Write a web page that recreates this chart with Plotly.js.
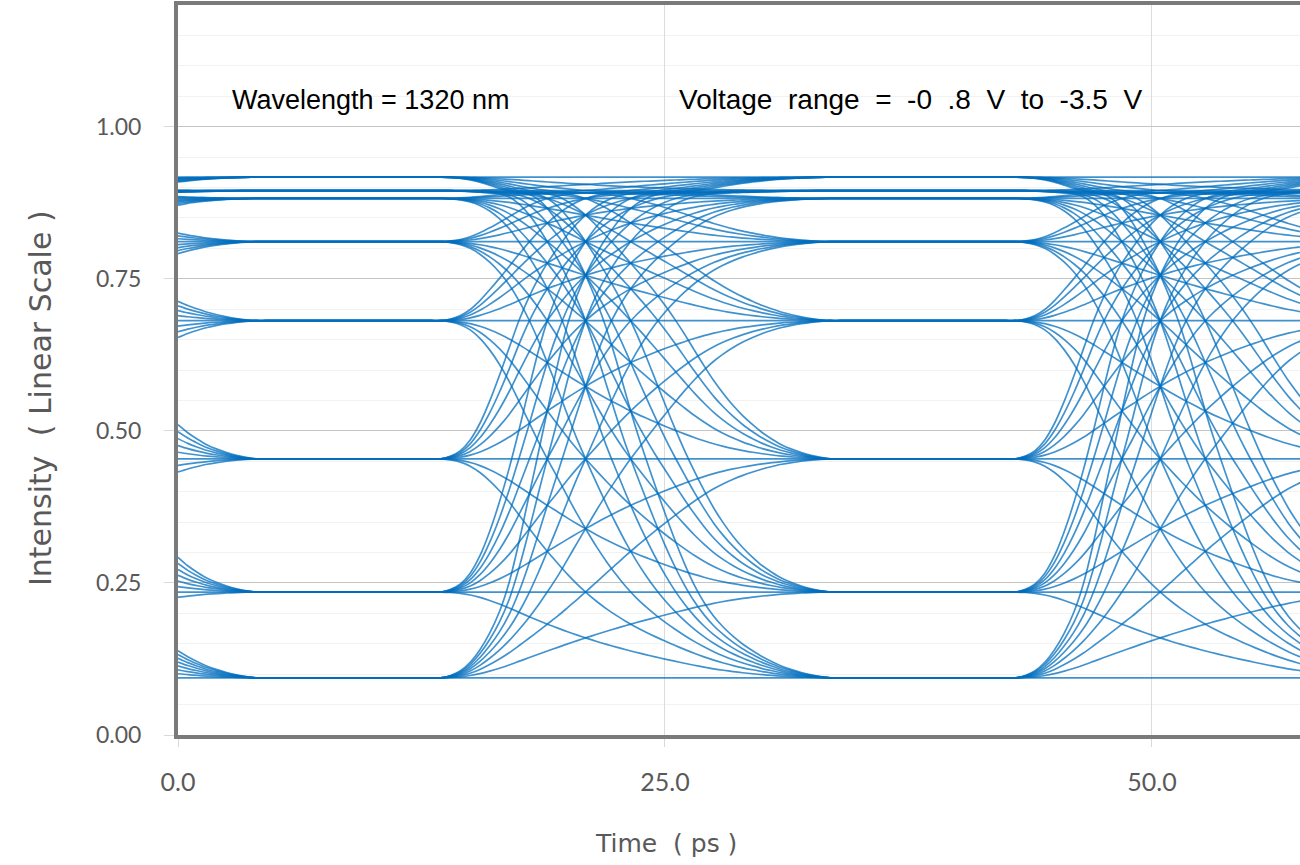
<!DOCTYPE html>
<html><head><meta charset="utf-8">
<script src="https://cdn.plot.ly/plotly-3.0.1.min.js"></script>
<style>html,body{margin:0;padding:0;background:#fff}#chart{width:1300px;height:865px}</style>
</head><body><div id="chart"></div>
<script>
const levels = [0.094, 0.235, 0.454, 0.681, 0.811, 0.882, 0.895, 0.917];
// Symbol pattern: every level-to-level pair appears once
const symbols = [0,0,1,0,2,0,3,0,4,0,5,0,6,0,7,1,1,2,1,3,1,4,1,5,1,6,1,7,2,2,3,2,4,2,5,2,6,2,7,3,3,4,3,5,3,6,3,7,4,4,5,4,6,4,7,5,5,6,5,7,6,6,7,7];
// Drive step response (fraction of the step), every 0.5 ps from the start of an edge
const stepProfile = [0,0.004,0.012,0.027,0.05,0.08,0.115,0.155,0.2,0.246,0.292,0.337,0.38,0.424,0.466,0.506,0.545,0.582,0.617,0.651,0.683,0.713,0.742,0.77,0.797,0.823,0.848,0.871,0.892,0.91,0.926,0.94,0.952,0.963,0.972,0.98,0.986,0.991,0.995,0.998,1.0];
const profileStep = 0.5;     // ps
const symbolPeriod = 29.5;   // ps
const firstEdge = 13.5;      // ps
const timeStep = 0.5;        // ps
const timeEnd = 58;          // ps
const xTickVals = [0, 25, 50];
const xTickText = ['0.0', '25.0', '50.0'];
const yTickVals = [0, 0.25, 0.5, 0.75, 1.0];
const yTickText = ['0.00', '0.25', '0.50', '0.75', '1.00'];

// monotone transfer from drive level index to intensity, through the measured levels
function makeTransfer(ys) {
  const n = ys.length, d = [], m = [];
  for (let i = 0; i < n - 1; i++) d.push(ys[i + 1] - ys[i]);
  m[0] = d[0]; m[n - 1] = d[n - 2];
  for (let i = 1; i < n - 1; i++) m[i] = (d[i - 1] * d[i] <= 0) ? 0 : (d[i - 1] + d[i]) / 2;
  for (let i = 0; i < n - 1; i++) {
    if (d[i] === 0) { m[i] = 0; m[i + 1] = 0; continue; }
    const a = m[i] / d[i], b = m[i + 1] / d[i], s = a * a + b * b;
    if (s > 9) { const tau = 3 / Math.sqrt(s); m[i] = tau * a * d[i]; m[i + 1] = tau * b * d[i]; }
  }
  return function (v) {
    if (v <= 0) return ys[0];
    if (v >= n - 1) return ys[n - 1];
    const i = Math.floor(v), h = v - i, h2 = h * h, h3 = h2 * h;
    return (2*h3 - 3*h2 + 1) * ys[i] + (h3 - 2*h2 + h) * m[i] + (-2*h3 + 3*h2) * ys[i + 1] + (h3 - h2) * m[i + 1];
  };
}
const transfer = makeTransfer(levels);
function stepAt(dt) {
  const k = Math.round(dt / profileStep);
  if (k <= 0) return 0;
  if (k >= stepProfile.length) return 1;
  return stepProfile[k];
}

const times = [];
for (let t = 0; t <= timeEnd + 1e-9; t += timeStep) times.push(+t.toFixed(2));
const N = symbols.length;
const traces = [];
for (let j = 0; j < N; j++) {
  const seq = [-1, 0, 1, 2].map(o => symbols[((j + o) % N + N) % N]);
  const y = times.map(t => {
    let v = seq[0];
    for (let e = 0; e < 3; e++) {
      v += (seq[e + 1] - seq[e]) * stepAt(t - (firstEdge + (e - 1) * symbolPeriod));
    }
    return transfer(v);
  });
  traces.push({
    x: times, y: y, type: 'scatter', mode: 'lines',
    line: {color: 'rgba(0,110,190,0.75)', width: 1.7, shape: 'spline', smoothing: 0.8},
    hoverinfo: 'skip', showlegend: false
  });
}

const NB = '\u00a0';
const tickFont = {family: 'Lato, "Open Sans", sans-serif', size: 23, color: '#595959'};
const layout = {
  width: 1300, height: 865,
  margin: {l: 178, r: 0, t: 5, b: 130},
  paper_bgcolor: '#ffffff', plot_bgcolor: '#ffffff',
  showlegend: false,
  xaxis: {
    range: [0, 57.6], tickmode: 'array', tickvals: xTickVals, ticktext: xTickText,
    showgrid: true, gridcolor: '#dcdcdc', gridwidth: 1, zeroline: false,
    showline: true, linecolor: '#7a7a7a', linewidth: 4, mirror: true,
    ticks: 'outside', ticklen: 8, tickcolor: '#d9d9d9', tickwidth: 1,
    tickfont: {family: 'Lato, "Open Sans", sans-serif', size: 25, color: '#595959'}, ticklabelstandoff: 14
  },
  yaxis: {
    range: [0, 1.2], tickmode: 'array', tickvals: yTickVals, ticktext: yTickText,
    showgrid: true, gridcolor: '#c4c4c4', gridwidth: 1, zeroline: false,
    minor: {dtick: 0.05, showgrid: true, gridcolor: '#f2f2f2', gridwidth: 1, ticks: ''},
    showline: true, linecolor: '#7a7a7a', linewidth: 4,
    ticks: 'outside', ticklen: 10, tickcolor: '#d9d9d9', tickwidth: 1,
    tickfont: tickFont, ticklabelstandoff: 18
  },
  annotations: [
    {text: 'Wavelength = 1320 nm', xref: 'x', yref: 'y', x: 2.65, y: 1.044, xanchor: 'left', yanchor: 'middle',
     showarrow: false, font: {family: '"Liberation Sans", Arial, sans-serif', size: 27, color: '#000000'}},
    {text: ['Voltage', 'range', '=', '-0', '.8', 'V', 'to', '-3.5', 'V'].join(' ' + NB), xref: 'x', yref: 'y', x: 25.6, y: 1.044,
     xanchor: 'left', yanchor: 'middle',
     showarrow: false, font: {family: '"Liberation Sans", Arial, sans-serif', size: 28, color: '#000000'}},
    {text: 'Time' + NB + NB + '(' + NB + 'ps' + NB + ')', xref: 'paper', yref: 'paper', x: (666 - 178) / 1122, y: -(843 - 735) / 730,
     xanchor: 'center', yanchor: 'middle', showarrow: false,
     font: {family: '"DejaVu Sans", sans-serif', size: 25, color: '#595959'}},
    {text: 'Intensity' + NB + NB + '(' + NB + 'Linear Scale' + NB + ')', xref: 'paper', yref: 'paper', x: -(178 - 40) / 1122, y: (735 - 398) / 730,
     xanchor: 'center', yanchor: 'middle', textangle: -90, showarrow: false,
     font: {family: '"DejaVu Sans", sans-serif', size: 30, color: '#595959'}}
  ]
};
Plotly.newPlot('chart', traces, layout, {displayModeBar: false, staticPlot: true});
</script>
</body></html>
